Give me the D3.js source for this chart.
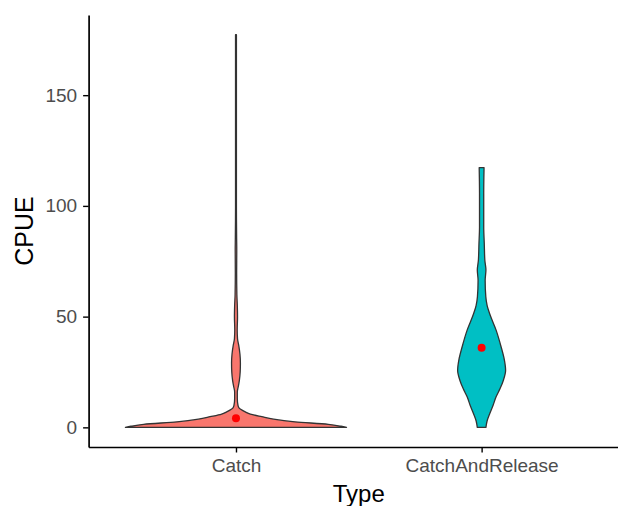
<!DOCTYPE html>
<html>
<head>
<meta charset="utf-8">
<script src="https://cdn.jsdelivr.net/npm/d3@7"></script>
<style>
  body { margin: 0; background: #fff; }
  .axis text { font-family: "Liberation Sans", Arial, sans-serif; font-size: 19px; fill: #4d4d4d; }
  .axis path, .axis line { stroke: #000; }
  .title { font-family: "Liberation Sans", Arial, sans-serif; font-size: 25px; fill: #000; }
</style>
</head>
<body>
<script>
var types = ["Catch", "CatchAndRelease"];
var fills = ["#F8766D", "#00BFC4"];

// violin outlines: CPUE value and relative density
var catchCPUE    = [0, 0.5, 1.35, 2.5, 3.7, 4.8, 6, 7, 8.8, 10, 13, 16, 18, 21, 25, 29, 33, 37, 40, 44, 50, 55, 60, 70, 80, 85, 100, 120, 150, 177.3];
var catchDensity = [1, 0.95, 0.835, 0.534, 0.34, 0.234, 0.13, 0.084, 0.027, 0.018, 0.012, 0.012, 0.019, 0.03, 0.038, 0.04, 0.036, 0.025, 0.014, 0.011, 0.014, 0.012, 0.008, 0.006, 0.007, 0.006, 0.004, 0.004, 0.004, 0.004];

var relCPUE    = [0, 3, 6.3, 10, 13.8, 17.5, 21.3, 25.8, 30.4, 36.4, 43.9, 51.4, 55, 58.9, 66.4, 71, 75.5, 83, 90.5, 105.7, 117.3];
var relDensity = [0.039, 0.05, 0.074, 0.104, 0.131, 0.167, 0.197, 0.217, 0.206, 0.176, 0.131, 0.072, 0.05, 0.038, 0.032, 0.039, 0.029, 0.024, 0.019, 0.019, 0.022];

var means = [4.06, 35.9];
var yTicks = [0, 50, 100, 150];

var width = 618, height = 506;
var plotLeft = 88.6, plotRight = 629, plotTop = 15, plotBottom = 447;

var svg = d3.select("body").append("svg")
    .attr("width", width)
    .attr("height", height);

var yScale = d3.scaleLinear()
    .domain([-8.87, 186.2])
    .range([plotBottom, plotTop]);

var xScale = d3.scalePoint()
    .domain(types)
    .range([plotLeft, plotRight])
    .padding(0.6);

var wScale = d3.scaleLinear()
    .domain([0, 1])
    .range([0, 0.45 * xScale.step()]);

var violins = [
  { type: types[0], fill: fills[0], pts: d3.zip(catchCPUE, catchDensity), mean: means[0] },
  { type: types[1], fill: fills[1], pts: d3.zip(relCPUE, relDensity), mean: means[1] }
];

var grp = svg.append("g");

violins.forEach(function(v) {
  var cx = xScale(v.type);
  var area = d3.area()
      .curve(d3.curveMonotoneY)
      .y(function(d) { return yScale(d[0]); })
      .x0(function(d) { return cx - wScale(d[1]); })
      .x1(function(d) { return cx + wScale(d[1]); });
  grp.append("path")
      .datum(v.pts)
      .attr("d", area)
      .attr("fill", v.fill)
      .attr("stroke", "#333333")
      .attr("stroke-width", 1.3)
      .attr("stroke-linejoin", "round");
});

grp.selectAll(".mean")
    .data(violins)
    .enter().append("circle")
    .attr("class", "mean")
    .attr("cx", function(d) { return xScale(d.type); })
    .attr("cy", function(d) { return yScale(d.mean); })
    .attr("r", 4)
    .attr("fill", "#FF0000");

// axes
var yAxis = svg.append("g")
    .attr("class", "axis")
    .attr("transform", "translate(" + plotLeft + ",0)")
    .call(d3.axisLeft(yScale).tickValues(yTicks).tickSize(5.5).tickPadding(6).tickSizeOuter(0));
yAxis.select(".domain").attr("stroke-width", 1.7);
yAxis.selectAll(".tick line").attr("stroke-width", 1.4).attr("stroke", "#333");

var xAxis = svg.append("g")
    .attr("class", "axis")
    .attr("transform", "translate(0," + plotBottom + ")")
    .call(d3.axisBottom(xScale).tickSize(5.5).tickPadding(6).tickSizeOuter(0));
xAxis.select(".domain").attr("stroke-width", 1.7);
xAxis.selectAll(".tick line").attr("stroke-width", 1.4).attr("stroke", "#333");

svg.append("text")
    .attr("class", "title")
    .attr("x", (plotLeft + plotRight) / 2)
    .attr("y", 502)
    .attr("text-anchor", "middle")
    .style("font-size", "24px")
    .text("Type");

svg.append("text")
    .attr("class", "title")
    .attr("transform", "translate(33," + ((plotTop + plotBottom) / 2) + ") rotate(-90)")
    .attr("text-anchor", "middle")
    .text("CPUE");
</script>
</body>
</html>
